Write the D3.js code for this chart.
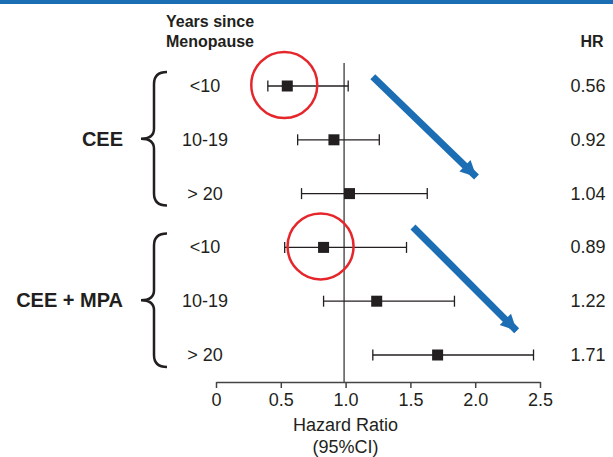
<!DOCTYPE html>
<html lang="en">
<head>
<meta charset="UTF-8">
<title>Hazard Ratio by years since menopause</title>
<script src="https://d3js.org/d3.v7.min.js"></script>
<style>
  body { margin: 0; background: #fff; }
  svg text { font-family: "Liberation Sans", Arial, sans-serif; fill: #231f20; }
</style>
</head>
<body>
<div id="chart"></div>
<script>
// data
const groups = ["CEE", "CEE + MPA"];
const rowGroup = [0, 0, 0, 1, 1, 1];
const rowLabels = ["<10", "10-19", "> 20", "<10", "10-19", "> 20"];
const hrLabels = ["0.56", "0.92", "1.04", "0.89", "1.22", "1.71"];
const estimate = [0.55, 0.91, 1.03, 0.83, 1.24, 1.71];
const ciLow = [0.40, 0.63, 0.66, 0.53, 0.83, 1.21];
const ciHigh = [1.02, 1.26, 1.63, 1.47, 1.84, 2.45];
const tickValues = [0, 0.5, 1, 1.5, 2, 2.5];
const tickLabels = ["0", "0.5", "1.0", "1.5", "2.0", "2.5"];
// highlight circles (row index) and trend arrows (HR units, row units)
const circledRows = [0, 3];
const arrows = [
  { x1: 1.21, y1: -0.17, x2: 2.01, y2: 1.69 },
  { x1: 1.52, y1: 2.62, x2: 2.32, y2: 4.55 }
];

const width = 613, height = 457;

const svg = d3.select("#chart").append("svg")
  .attr("width", width)
  .attr("height", height);

// top blue rule
svg.append("rect")
  .attr("x", 0).attr("y", 0)
  .attr("width", width).attr("height", 4)
  .attr("fill", "#1b6db4");

const x = d3.scaleLinear().domain([0, 2.5]).range([216, 540]);
const rowIdx = d3.range(rowLabels.length);
const y = d3.scaleLinear().domain([0, 5]).range([86, 355]);
const axisY = 382;

// axis
const axis = d3.axisBottom(x)
  .tickValues(tickValues)
  .tickFormat((d, i) => tickLabels[i])
  .tickSize(6)
  .tickSizeOuter(0)
  .tickPadding(5);

const gAxis = svg.append("g")
  .attr("transform", "translate(0," + axisY + ")")
  .call(axis);
gAxis.select(".domain").attr("stroke", "#444").attr("stroke-width", 1.5);
gAxis.selectAll(".tick line").attr("stroke", "#444").attr("stroke-width", 1.5);
gAxis.selectAll(".tick text")
  .style("font-size", "18px")
  .attr("fill", "#231f20")
  .style("font-family", "Liberation Sans, Arial, sans-serif");

svg.append("text")
  .attr("x", x(1)).attr("y", 431)
  .attr("text-anchor", "middle")
  .style("font-size", "18px")
  .text("Hazard Ratio");
svg.append("text")
  .attr("x", x(1)).attr("y", 453)
  .attr("text-anchor", "middle")
  .style("font-size", "18px")
  .text("(95%CI)");

// reference line at HR = 1
svg.append("line")
  .attr("x1", x(1) - 1.5).attr("x2", x(1) - 1.5)
  .attr("y1", 63).attr("y2", axisY)
  .attr("stroke", "#555").attr("stroke-width", 1.5);

// headers
svg.append("text")
  .attr("x", 166).attr("y", 27)
  .style("font-size", "16px").style("font-weight", "bold")
  .text("Years since");
svg.append("text")
  .attr("x", 166).attr("y", 47)
  .style("font-size", "16px").style("font-weight", "bold")
  .text("Menopause");
svg.append("text")
  .attr("x", 592).attr("y", 47)
  .attr("text-anchor", "middle")
  .style("font-size", "16px").style("font-weight", "bold")
  .text("HR");

// row labels and HR values
svg.selectAll(".rowlab").data(rowIdx).enter().append("text")
  .attr("class", "rowlab")
  .attr("x", 205).attr("y", i => y(i) + 6)
  .attr("text-anchor", "middle")
  .style("font-size", "18px")
  .text(i => rowLabels[i]);

svg.selectAll(".hrlab").data(rowIdx).enter().append("text")
  .attr("class", "hrlab")
  .attr("x", 588).attr("y", i => y(i) + 6)
  .attr("text-anchor", "middle")
  .style("font-size", "18px")
  .text(i => hrLabels[i]);

// group labels and braces
groups.forEach((g, gi) => {
  const rows = rowIdx.filter(i => rowGroup[i] === gi);
  const top = y(rows[0]) - 14, bot = y(rows[rows.length - 1]) + 12;
  const mid = (top + bot) / 2;
  const xv = 154, xe = 167, xt = 141;
  const path = d3.path();
  path.moveTo(xe, top);
  path.quadraticCurveTo(xv, top, xv, top + 12);
  path.lineTo(xv, mid - 10);
  path.quadraticCurveTo(xv, mid, xt, mid);
  path.quadraticCurveTo(xv, mid, xv, mid + 10);
  path.lineTo(xv, bot - 12);
  path.quadraticCurveTo(xv, bot, xe, bot);
  svg.append("path")
    .attr("d", path.toString())
    .attr("fill", "none")
    .attr("stroke", "#231f20")
    .attr("stroke-width", 2.5);
  svg.append("text")
    .attr("x", 123).attr("y", mid + 7)
    .attr("text-anchor", "end")
    .style("font-size", "20px").style("font-weight", "bold")
    .text(g);
});

// confidence intervals
const ci = svg.append("g").attr("stroke", "#231f20").attr("stroke-width", 1.3);
ci.selectAll(".ci").data(rowIdx).enter().append("line")
  .attr("x1", i => x(ciLow[i])).attr("x2", i => x(ciHigh[i]))
  .attr("y1", i => y(i)).attr("y2", i => y(i));
ci.selectAll(".capl").data(rowIdx).enter().append("line")
  .attr("x1", i => x(ciLow[i])).attr("x2", i => x(ciLow[i]))
  .attr("y1", i => y(i) - 5.5).attr("y2", i => y(i) + 5.5);
ci.selectAll(".caph").data(rowIdx).enter().append("line")
  .attr("x1", i => x(ciHigh[i])).attr("x2", i => x(ciHigh[i]))
  .attr("y1", i => y(i) - 5.5).attr("y2", i => y(i) + 5.5);

// point estimates
const sq = 11;
svg.selectAll(".pt").data(rowIdx).enter().append("rect")
  .attr("x", i => x(estimate[i]) - sq / 2)
  .attr("y", i => y(i) - sq / 2)
  .attr("width", sq).attr("height", sq)
  .attr("fill", "#231f20");

// red highlight circles
svg.selectAll(".hl").data(circledRows).enter().append("circle")
  .attr("cx", i => x(estimate[i]) - 3)
  .attr("cy", i => y(i) - 1)
  .attr("r", 33)
  .attr("fill", "none")
  .attr("stroke", "#e5262b")
  .attr("stroke-width", 2.5);

// blue trend arrows
svg.append("defs").append("marker")
  .attr("id", "head")
  .attr("markerUnits", "userSpaceOnUse")
  .attr("viewBox", "0 0 10 10")
  .attr("refX", 10).attr("refY", 5)
  .attr("markerWidth", 18).attr("markerHeight", 16)
  .attr("orient", "auto")
  .append("path")
  .attr("d", "M0,0 L10,5 L0,10 z")
  .attr("fill", "#1b6db4");

svg.selectAll(".arrow").data(arrows).enter().append("line")
  .attr("x1", d => x(d.x1)).attr("y1", d => y(d.y1))
  .attr("x2", d => x(d.x2)).attr("y2", d => y(d.y2))
  .attr("stroke", "#1b6db4")
  .attr("stroke-width", 7)
  .attr("marker-end", "url(#head)");
</script>
</body>
</html>
